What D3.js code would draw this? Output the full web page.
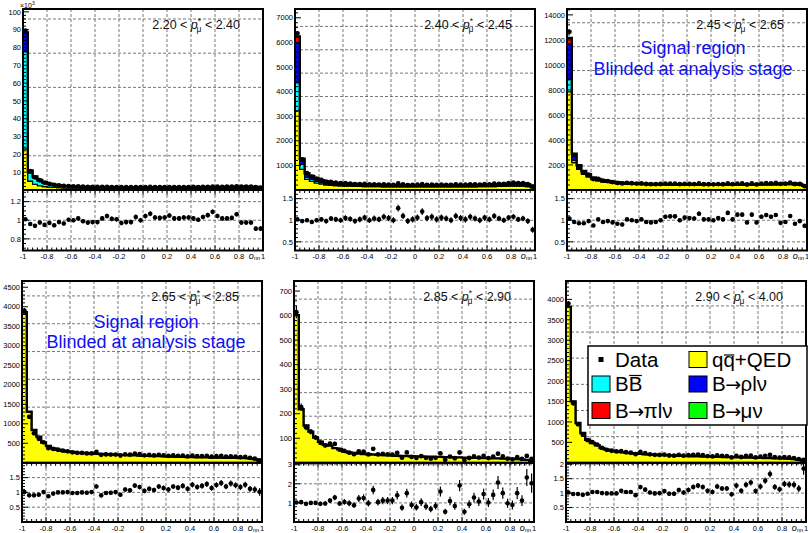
<!DOCTYPE html>
<html><head><meta charset="utf-8">
<script src="https://cdn.jsdelivr.net/npm/d3@7"></script>
<style>body{margin:0;background:#fff}svg{display:block}</style>
</head><body><svg id="c" width="808" height="533"></svg>
<script>
// ---------------- DATA ----------------
const pLow  = ["2.20", "2.40", "2.45", "2.65", "2.85", "2.90"];
const pHigh = ["2.40", "2.45", "2.65", "2.85", "2.90", "4.00"];
const xTickVals   = [-1, -0.8, -0.6, -0.4, -0.2, 0, 0.2, 0.4, 0.6, 0.8, 1];
const xTickLabels = ["-1", "-0.8", "-0.6", "-0.4", "-0.2", "0", "0.2", "0.4", "0.6", "0.8", "1"];

// panel 1 (x10^3)
const qq1 = [23.0, 5.0, 3.2, 2.4, 1.9, 1.6, 1.4, 1.25, 1.12, 1.04,
  0.99, 0.95, 0.92, 0.9, 0.88, 0.86, 0.84, 0.83, 0.82, 0.81,
  0.8, 0.8, 0.79, 0.79, 0.79, 0.79, 0.79, 0.79, 0.8, 0.8,
  0.8, 0.81, 0.81, 0.82, 0.82, 0.83, 0.84, 0.85, 0.86, 0.87,
  0.88, 0.89, 0.9, 0.92, 0.94, 0.96, 0.97, 0.95, 0.9, 0.72];
const bb1 = [54.6, 4.6, 3.5, 2.6, 2.0, 1.6, 1.35, 1.15, 1.0, 0.92,
  0.86, 0.82, 0.79, 0.76, 0.74, 0.72, 0.7, 0.69, 0.68, 0.67,
  0.66, 0.65, 0.65, 0.64, 0.64, 0.64, 0.64, 0.64, 0.64, 0.64,
  0.64, 0.64, 0.65, 0.65, 0.65, 0.66, 0.66, 0.67, 0.67, 0.68,
  0.69, 0.7, 0.71, 0.72, 0.73, 0.74, 0.75, 0.73, 0.69, 0.55];
const rho1 = [10.3, 1.2, 0.8, 0.55, 0.4, 0.3, 0.25, 0.21, 0.19, 0.17,
  0.16, 0.15, 0.14, 0.14, 0.13, 0.13, 0.13, 0.12, 0.12, 0.12,
  0.12, 0.12, 0.12, 0.12, 0.12, 0.12, 0.12, 0.12, 0.12, 0.12,
  0.12, 0.12, 0.12, 0.12, 0.13, 0.13, 0.13, 0.13, 0.14, 0.14,
  0.15, 0.15, 0.16, 0.17, 0.18, 0.19, 0.2, 0.19, 0.17, 0.12];
const pi1 = [0.6, 0.15, 0.08, 0.05, 0.04, 0.03, 0.03, 0.02, 0.02, 0.02,
  0.02, 0.02, 0.02, 0.02, 0.02, 0.02, 0.02, 0.02, 0.02, 0.02,
  0.02, 0.02, 0.02, 0.02, 0.02, 0.02, 0.02, 0.02, 0.02, 0.02,
  0.02, 0.02, 0.02, 0.02, 0.02, 0.02, 0.02, 0.02, 0.02, 0.02,
  0.02, 0.02, 0.02, 0.02, 0.03, 0.03, 0.03, 0.03, 0.02, 0.02];
const r1 = [1.01, 0.96, 0.94, 0.975, 0.95, 0.97, 0.945, 0.98, 0.965, 1.005,
  1.0, 1.02, 0.99, 0.975, 0.98, 0.98, 1.02, 1.045, 1.015, 1.01,
  0.97, 0.98, 0.98, 1.035, 1.0, 1.045, 1.07, 1.03, 1.025, 1.03,
  1.05, 1.02, 1.02, 1.03, 1.03, 1.02, 1.005, 1.035, 1.055, 1.09,
  1.045, 1.02, 1.02, 1.025, 1.065, 0.975, 0.975, 0.975, 0.91, 0.91];

// panel 2
const qq2 = [3220, 840, 430, 355, 285, 245, 210, 190, 175, 165,
  158, 152, 147, 143, 139, 136, 133, 131, 128, 127,
  125, 124, 122, 122, 121, 121, 120, 120, 120, 121,
  121, 122, 122, 124, 125, 126, 127, 129, 131, 133,
  135, 138, 142, 147, 152, 155, 155, 150, 135, 98];
const bb2 = [1145, 200, 85, 70, 58, 50, 43, 39, 36, 34,
  32, 31, 30, 29, 28, 28, 27, 27, 26, 26,
  25, 25, 25, 25, 25, 24, 24, 24, 24, 24,
  24, 24, 25, 25, 25, 25, 25, 26, 26, 27,
  27, 28, 29, 30, 31, 32, 33, 32, 29, 20];
const rho2 = [1615, 205, 150, 130, 109, 93, 80, 74, 68, 65,
  62, 60, 59, 57, 56, 54, 54, 53, 53, 52,
  52, 51, 51, 50, 50, 50, 50, 50, 50, 50,
  51, 51, 51, 51, 52, 53, 54, 54, 55, 56,
  58, 60, 63, 66, 72, 78, 81, 79, 70, 48];
const pi2 = [265, 25, 15, 15, 13, 12, 12, 12, 11, 11,
  10, 9, 9, 9, 9, 8, 8, 7, 7, 6,
  6, 6, 6, 6, 6, 6, 6, 6, 6, 6,
  6, 6, 6, 6, 6, 6, 6, 6, 6, 6,
  6, 6, 6, 7, 7, 7, 7, 7, 6, 4];
const r2 = [1.02, 0.98, 1.0, 0.96, 1.0, 1.02, 0.98, 1.04, 1.02, 1.0,
  1.05, 1.03, 0.98, 1.02, 1.06, 1.0, 1.04, 1.02, 1.08, 1.05,
  1.0, 1.28, 1.1, 0.98, 1.02, 1.06, 1.2, 1.05, 1.08, 1.02,
  1.06, 1.04, 1.0, 1.1, 1.05, 1.02, 1.08, 1.04, 1.0, 1.06,
  1.02, 1.1, 1.04, 1.0, 1.06, 1.08, 1.02, 1.04, 0.98, 0.78];

// panel 3
const qq3 = [7860, 2190, 1650, 1270, 1050, 830, 730, 650, 595, 550,
  510, 485, 465, 450, 437, 427, 418, 412, 406, 400,
  395, 392, 389, 386, 384, 382, 380, 379, 378, 377,
  377, 377, 378, 379, 380, 382, 384, 386, 389, 392,
  395, 399, 404, 410, 415, 420, 418, 408, 385, 280];
const bb3 = [1000, 180, 80, 60, 50, 40, 35, 32, 30, 28,
  26, 25, 24, 23, 22, 21, 20, 20, 20, 19,
  19, 19, 19, 19, 18, 18, 18, 18, 18, 18,
  18, 18, 18, 18, 18, 18, 18, 19, 19, 19,
  19, 20, 20, 20, 21, 21, 21, 20, 19, 14];
const rho3 = [2820, 480, 220, 170, 145, 115, 100, 95, 85, 78,
  70, 66, 63, 60, 59, 57, 55, 54, 53, 53,
  52, 52, 51, 51, 51, 50, 50, 50, 50, 50,
  50, 50, 50, 51, 51, 52, 52, 53, 54, 55,
  56, 58, 60, 63, 67, 72, 76, 74, 66, 45];
const pi3 = [480, 60, 30, 20, 15, 12, 12, 10, 10, 9,
  9, 8, 8, 7, 7, 7, 7, 6, 6, 6,
  6, 6, 6, 6, 6, 6, 6, 6, 6, 6,
  6, 6, 6, 6, 6, 6, 6, 6, 6, 6,
  7, 7, 8, 9, 10, 12, 14, 14, 12, 8];
const mu3 = [0, 0, 0, 0, 0, 0, 0, 0, 0, 0,
  0, 0, 0, 0, 0, 0, 0, 0, 0, 0,
  0, 0, 0, 0, 0, 0, 0, 0, 0, 0,
  0, 0, 0, 0, 0, 0, 0, 0, 0, 0,
  1, 1, 2, 2, 3, 4, 5, 6, 6, 4];
const r3 = [1.04, 0.96, 0.93, 0.93, 0.98, 0.88, 1.02, 0.96, 0.98, 0.95,
  0.92, 0.9, 1.02, 1.0, 0.98, 1.02, 0.96, 0.95, 0.96, 1.0,
  1.08, 1.09, 1.09, 1.0, 1.06, 1.05, 1.04, 1.15, 1.02, 1.02,
  1.0, 1.05, 1.02, 1.17, 1.02, 1.13, 1.13, 0.95, 1.13, 0.95,
  1.08, 1.12, 1.08, 1.12, 0.94, 0.96, 1.1, 0.92, 0.98, 0.87];

// panel 4
const qq4 = [3805, 1295, 830, 662, 514, 425, 366, 332, 307, 287,
  272, 259, 249, 241, 235, 229, 223, 217, 211, 205,
  200, 195, 191, 187, 183, 179, 175, 171, 167, 163,
  159, 155, 152, 149, 146, 143, 140, 137, 135, 133,
  131, 129, 127, 125, 123, 121, 117, 109, 93, 59];
const rho4 = [55, 15, 10, 8, 6, 5, 4, 3, 3, 3,
  3, 3, 3, 3, 3, 3, 3, 3, 3, 3,
  3, 3, 3, 3, 3, 3, 3, 3, 3, 3,
  3, 3, 3, 3, 3, 3, 3, 3, 3, 3,
  3, 3, 3, 3, 3, 3, 3, 3, 2, 1];
const r4 = [1.01, 0.9, 0.9, 0.92, 1.01, 0.87, 0.96, 1.0, 1.0, 1.01,
  0.98, 0.98, 1.0, 0.99, 1.01, 1.2, 0.9, 0.98, 0.99, 1.01,
  0.92, 1.1, 1.07, 1.23, 1.18, 1.05, 1.12, 1.08, 1.2, 1.15,
  1.1, 1.2, 1.16, 1.22, 1.12, 1.26, 1.18, 1.22, 1.28, 1.15,
  1.25, 1.32, 1.2, 1.3, 1.24, 1.18, 1.26, 1.12, 1.1, 1.02];

// panel 5
const qq5 = [602, 218, 152, 127, 103, 86, 73, 70, 60, 55,
  46, 42, 40, 38, 36, 35, 34, 33, 32, 31,
  30, 29, 28, 28, 27, 26, 26, 25, 25, 24,
  24, 23, 23, 22, 22, 21, 21, 20, 20, 19,
  19, 18, 18, 17, 17, 16, 15, 14, 12, 8];
const r5 = [1.02, 1.04, 0.95, 1.0, 1.0, 0.95, 0.97, 1.12, 1.28, 0.97,
  1.05, 0.98, 0.88, 1.23, 1.26, 0.98, 1.68, 1.04, 1.12, 1.12,
  1.12, 1.4, 0.75, 1.51, 0.89, 0.77, 1.04, 0.81, 0.68, 0.84,
  1.6, 0.54, 1.1, 0.84, 1.91, 0.54, 0.93, 1.28, 1.07, 1.46,
  1.02, 1.42, 2.07, 1.51, 0.98, 0.89, 1.51, 1.12, 2.33, 2.03];

// panel 6
const qq6 = [3822, 1503, 973, 729, 566, 485, 428, 363, 322, 298,
  282, 262, 248, 236, 226, 218, 210, 204, 198, 192,
  187, 182, 178, 174, 170, 166, 162, 159, 156, 153,
  150, 147, 144, 141, 138, 135, 132, 129, 126, 124,
  121, 119, 116, 113, 110, 106, 100, 90, 76, 40];
const r6 = [1.02, 0.97, 0.97, 0.94, 0.98, 1.04, 1.04, 1.0, 0.99, 0.99,
  0.99, 1.08, 1.04, 1.04, 0.93, 1.21, 1.12, 1.02, 0.99, 1.0,
  1.07, 0.98, 0.98, 1.11, 1.02, 1.11, 1.21, 1.26, 1.21, 1.08,
  1.04, 1.23, 1.16, 1.16, 0.96, 1.26, 1.08, 1.29, 1.37, 1.07,
  1.23, 1.43, 1.66, 1.21, 1.13, 1.32, 1.3, 1.29, 1.16, 1.85];

// axes
const yTicks1 = [10, 20, 30, 40, 50, 60, 70, 80, 90, 100];
const yTicks2 = [1000, 2000, 3000, 4000, 5000, 6000, 7000];
const yTicks3 = [2000, 4000, 6000, 8000, 10000, 12000, 14000];
const yTicks4 = [500, 1000, 1500, 2000, 2500, 3000, 3500, 4000, 4500];
const yTicks5 = [100, 200, 300, 400, 500, 600, 700];
const yTicks6 = [500, 1000, 1500, 2000, 2500, 3000, 3500, 4000];
const gridY1 = [19.2, 38.4, 57.6, 76.8, 96];
const gridY2 = [950, 1900, 2850, 3800, 4750, 5700, 6650];
const gridY3 = [1910, 3820, 5730, 7640, 9550, 11460, 13370];
const gridY4 = [713, 1426, 2139, 2852, 3565, 4278];
const gridY5 = [95, 190, 286, 381, 476, 572, 667];
const gridY6 = [640, 1280, 1920, 2560, 3200, 3840];
const rTicks1 = [0.8, 1, 1.2];
const rTicks2 = [0.5, 1, 1.5];
const rTicks4 = [0.5, 1, 1.5];
const rTicks5 = [1, 2, 3];
const rTicks6 = [0.5, 1, 1.5, 2];

const legendKeys   = ["data", "qq", "bb", "rho", "pi", "mu"];
const legendLabels = ["Data", "qq+QED", "BB", "B\u2192\u03c1l\u03bd", "B\u2192\u03c0l\u03bd", "B\u2192\u03bc\u03bd"];
const legendBarChar = [-1, 1, 1, -1, -1, -1];

// -------------- CONFIG --------------
const panels = [
  {comp: {qq: qq1, bb: bb1, rho: rho1, pi: pi1}, ratio: r1, unit: 1000, ymax: 101.6, yTicks: yTicks1, yMinor: 2, gridY: gridY1, rRange: [0.675, 1.325], rTicks: rTicks1, rMinor: 0.05, exp: true},
  {comp: {qq: qq2, bb: bb2, rho: rho2, pi: pi2}, ratio: r2, unit: 1, ymax: 7357, yTicks: yTicks2, yMinor: 200, gridY: gridY2, rRange: [0.3, 1.7], rTicks: rTicks2, rMinor: 0.1},
  {comp: {qq: qq3, bb: bb3, rho: rho3, pi: pi3, mu: mu3}, ratio: r3, unit: 1, ymax: 14470, yTicks: yTicks3, yMinor: 400, gridY: gridY3, rRange: [0.3, 1.7], rTicks: rTicks2, rMinor: 0.1, blind: true},
  {comp: {qq: qq4, rho: rho4}, ratio: r4, unit: 1, ymax: 4660, yTicks: yTicks4, yMinor: 100, gridY: gridY4, rRange: [0, 2], rTicks: rTicks4, rMinor: 0.1, blind: true},
  {comp: {qq: qq5}, ratio: r5, unit: 1, ymax: 741, yTicks: yTicks5, yMinor: 20, gridY: gridY5, rRange: [0, 3.1], rTicks: rTicks5, rMinor: 0.2},
  {comp: {qq: qq6}, ratio: r6, unit: 1, ymax: 4450, yTicks: yTicks6, yMinor: 100, gridY: gridY6, rRange: [0, 2.05], rTicks: rTicks6, rMinor: 0.1, legend: true}
];
const layout = [
  {left: 23, top: 9, mid: 190, bottom: 250.5, lab: 258.5},
  {left: 295, top: 9, mid: 190, bottom: 250.5, lab: 258.5},
  {left: 567, top: 9, mid: 190, bottom: 250.5, lab: 258.5},
  {left: 22, top: 281, mid: 462.8, bottom: 522, lab: 530.5},
  {left: 294, top: 281, mid: 462.8, bottom: 522, lab: 530.5},
  {left: 566, top: 281, mid: 462.8, bottom: 522, lab: 530.5}
];
const blindPos = [null, null, {cx: 693, y1: 54, y2: 75}, {cx: 146, y1: 327.5, y2: 348}, null, null];
const PW = 240;
const NB = 50;
const binEdges = d3.range(NB + 1).map(i => -1 + 2 * i / NB);
const FONT = '"Liberation Sans", Arial, Helvetica, sans-serif';
const colors = {qq: "#ffff00", bb: "#00ffff", rho: "#0000ff", pi: "#ff0000", mu: "#00ff00"};
const compOrder = ["qq", "bb", "rho", "pi", "mu"];

const svg = d3.select("#c");
const defs = svg.append("defs");
svg.append("rect").attr("width", 808).attr("height", 533).attr("fill", "#fff");

function minorVals(lo, hi, step) {
  const out = [];
  const s = Math.ceil(lo / step - 1e-9);
  for (let k = s; k * step <= hi + 1e-9; k++) out.push(+(k * step).toFixed(6));
  return out;
}

panels.forEach((p, k) => {
  const L = layout[k];
  const right = L.left + PW;
  const x = d3.scaleLinear().domain([-1, 1]).range([L.left, right]);
  const yU = d3.scaleLinear().domain([0, p.ymax]).range([L.mid, L.top]);
  const yR = d3.scaleLinear().domain(p.rRange).range([L.bottom, L.mid]);
  const g = svg.append("g");

  defs.append("clipPath").attr("id", "cu" + k).append("rect")
    .attr("x", L.left).attr("y", L.top).attr("width", PW).attr("height", L.mid - L.top);
  defs.append("clipPath").attr("id", "cr" + k).append("rect")
    .attr("x", L.left).attr("y", L.mid).attr("width", PW).attr("height", L.bottom - L.mid);

  // grids
  const gridG = g.append("g").attr("stroke", "#555").attr("stroke-width", 0.8)
    .attr("stroke-dasharray", "3,2").attr("fill", "none");
  xTickVals.slice(1, -1).forEach(v => {
    gridG.append("line").attr("x1", x(v)).attr("x2", x(v)).attr("y1", L.top).attr("y2", L.mid);
    gridG.append("line").attr("x1", x(v)).attr("x2", x(v)).attr("y1", L.mid).attr("y2", L.bottom);
  });
  p.gridY.forEach(v => gridG.append("line").attr("x1", L.left).attr("x2", right).attr("y1", yU(v)).attr("y2", yU(v)));
  p.rTicks.forEach(v => gridG.append("line").attr("x1", L.left).attr("x2", right).attr("y1", yR(v)).attr("y2", yR(v)));

  // stack
  const keys = compOrder.filter(c => p.comp[c]);
  const rows = d3.range(NB).map(i => Object.fromEntries(keys.map(c => [c, p.comp[c][i]])));
  const series = d3.stack().keys(keys)(rows);
  const area = d3.area().x(d => x(d.x)).y0(d => yU(d.y0)).y1(d => yU(d.y1));
  const hist = g.append("g").attr("clip-path", `url(#cu${k})`);
  series.forEach(s => {
    const pts = [];
    s.forEach((d, i) => {
      pts.push({x: binEdges[i], y0: d[0], y1: d[1]});
      pts.push({x: binEdges[i + 1], y0: d[0], y1: d[1]});
    });
    hist.append("path").attr("d", area(pts)).attr("fill", colors[s.key])
      .attr("stroke", "#000").attr("stroke-width", 1.1);
  });
  const total = d3.range(NB).map(i => d3.sum(keys, c => p.comp[c][i]));
  const topPts = [];
  total.forEach((t, i) => { topPts.push([binEdges[i], t]); topPts.push([binEdges[i + 1], t]); });
  hist.append("path").attr("d", d3.line().x(d => x(d[0])).y(d => yU(d[1]))(topPts))
    .attr("fill", "none").attr("stroke", "#000").attr("stroke-width", 2.4);

  // data in upper
  const dat = d3.range(NB).map(i => {
    const t = total[i], r = p.ratio[i];
    const n = t * r * p.unit;
    return {xc: (binEdges[i] + binEdges[i + 1]) / 2, v: t * r, e: Math.sqrt(n) / p.unit, r: r, re: Math.sqrt(n) / (t * p.unit)};
  });
  const dg = hist.append("g");
  dat.forEach(d => {
    dg.append("line").attr("x1", x(d.xc)).attr("x2", x(d.xc)).attr("y1", yU(d.v - d.e)).attr("y2", yU(d.v + d.e))
      .attr("stroke", "#000").attr("stroke-width", 1.2);
    dg.append("circle").attr("cx", x(d.xc)).attr("cy", yU(d.v)).attr("r", 2.4).attr("fill", "#000");
  });

  // ratio
  const rg = g.append("g").attr("clip-path", `url(#cr${k})`);
  dat.forEach(d => {
    rg.append("line").attr("x1", x(d.xc)).attr("x2", x(d.xc)).attr("y1", yR(d.r - d.re)).attr("y2", yR(d.r + d.re))
      .attr("stroke", "#000").attr("stroke-width", 1.2);
    rg.append("circle").attr("cx", x(d.xc)).attr("cy", yR(d.r)).attr("r", 2.3).attr("fill", "#000");
  });

  // ticks
  const tk = g.append("g").attr("stroke", "#000").attr("stroke-width", 1);
  minorVals(0, p.ymax, p.yMinor).forEach(v => {
    const maj = p.yTicks.some(t => Math.abs(t - v) < 1e-6);
    tk.append("line").attr("x1", L.left).attr("x2", L.left + (maj ? 6 : 3)).attr("y1", yU(v)).attr("y2", yU(v));
  });
  minorVals(p.rRange[0], p.rRange[1], p.rMinor).forEach(v => {
    const maj = p.rTicks.some(t => Math.abs(t - v) < 1e-6);
    tk.append("line").attr("x1", L.left).attr("x2", L.left + (maj ? 6 : 3)).attr("y1", yR(v)).attr("y2", yR(v));
  });
  minorVals(-1, 1, 0.04).forEach(v => {
    const maj = xTickVals.some(t => Math.abs(t - v) < 1e-6);
    tk.append("line").attr("x1", x(v)).attr("x2", x(v)).attr("y1", L.mid).attr("y2", L.mid + (maj ? 5 : 3));
    tk.append("line").attr("x1", x(v)).attr("x2", x(v)).attr("y1", L.bottom).attr("y2", L.bottom - (maj ? 5 : 3));
  });

  // frames
  g.append("rect").attr("x", L.left).attr("y", L.top).attr("width", PW).attr("height", L.mid - L.top)
    .attr("fill", "none").attr("stroke", "#000").attr("stroke-width", 2);
  g.append("rect").attr("x", L.left).attr("y", L.mid).attr("width", PW).attr("height", L.bottom - L.mid)
    .attr("fill", "none").attr("stroke", "#000").attr("stroke-width", 2);

  // labels
  const lab = g.append("g").style("font-family", FONT).style("font-size", "7.5px").attr("fill", "#000");
  p.yTicks.forEach(v => lab.append("text").attr("x", L.left - 2).attr("y", yU(v) + 2.7)
    .attr("text-anchor", "end").text(v));
  p.rTicks.forEach(v => lab.append("text").attr("x", L.left - 2).attr("y", yR(v) + 2.7)
    .attr("text-anchor", "end").text(v));
  xTickVals.forEach((v, i) => lab.append("text").attr("x", x(v)).attr("y", L.lab)
    .attr("text-anchor", "middle").text(xTickLabels[i]));
  const at = g.append("text").attr("x", right - 3).attr("y", L.lab + 0.5).attr("text-anchor", "end").style("font-family", FONT);
  at.append("tspan").style("font-style", "italic").style("font-size", "9px").text("o");
  at.append("tspan").attr("dy", 1.3).style("font-size", "5.5px").text("nn");
  if (p.exp) {
    const ex = g.append("text").attr("x", L.left - 3).attr("y", L.top - 1).style("font-family", FONT).style("font-size", "7px");
    ex.append("tspan").text("\u00d710");
    ex.append("tspan").attr("dy", -3).style("font-size", "5px").text("3");
  }

  // title
  const tt = g.append("text").attr("x", right - 23).attr("y", L.top + 19.5).attr("text-anchor", "end")
    .style("font-family", FONT).style("font-size", "12.5px").attr("fill", "#111");
  tt.append("tspan").text(pLow[k] + " < ");
  tt.append("tspan").style("font-style", "italic").text("p");
  tt.append("tspan").attr("dy", -5).style("font-size", "8.5px").text("*");
  tt.append("tspan").attr("dx", -4.6).attr("dy", 8.5).style("font-size", "8.5px").text("\u03bc");
  tt.append("tspan").attr("dy", -3.5).text(" < " + pHigh[k]);

  if (p.blind) {
    const b = blindPos[k];
    const bt = g.append("g").style("font-family", FONT).style("font-size", "18px").attr("fill", "#1010f5").attr("text-anchor", "middle");
    bt.append("text").attr("x", b.cx).attr("y", b.y1).text("Signal region");
    bt.append("text").attr("x", b.cx).attr("y", b.y2).text("Blinded at analysis stage");
  }
});

// legend
const lg = svg.append("g");
lg.append("rect").attr("x", 588).attr("y", 346).attr("width", 219).attr("height", 79)
  .attr("fill", "#fff").attr("stroke", "#000").attr("stroke-width", 1.5);
const colX = [592, 689];
const rowY = [359.5, 384, 410.5];
legendKeys.forEach((key, i) => {
  const cx = colX[i % 2], cy = rowY[Math.floor(i / 2)];
  if (key === "data") {
    lg.append("rect").attr("x", cx + 6.5).attr("y", cy - 2.5).attr("width", 5).attr("height", 5).attr("fill", "#000");
  } else {
    lg.append("rect").attr("x", cx).attr("y", cy - 8).attr("width", 18).attr("height", 16)
      .attr("fill", colors[key]).attr("stroke", "#000").attr("stroke-width", 1);
  }
  const t = lg.append("text").attr("x", cx + 23).attr("y", cy + 7).style("font-family", FONT)
    .style("font-size", "20.5px").attr("fill", "#000");
  const label = legendLabels[i];
  const ai = label.indexOf("\u2192");
  if (ai >= 0) {
    t.append("tspan").text(label.slice(0, ai));
    t.append("tspan").attr("dx", -0.5).style("font-family", '"DejaVu Sans"').style("font-size", "19px").text("\u2192");
    t.append("tspan").attr("dx", -0.5).text(label.slice(ai + 1));
  } else {
    t.text(label);
  }
  const ci = legendBarChar[i];
  if (ci >= 0) {
    const node = t.node();
    const s = node.getStartPositionOfChar(ci), e = node.getEndPositionOfChar(ci);
    const yy = key === "qq" ? cy + 7 - 11.5 : cy + 7 - 15.5;
    lg.append("line").attr("x1", s.x + 0.5).attr("x2", e.x - 0.5).attr("y1", yy).attr("y2", yy)
      .attr("stroke", "#000").attr("stroke-width", 1.2);
  }
});
</script>
</body></html>
